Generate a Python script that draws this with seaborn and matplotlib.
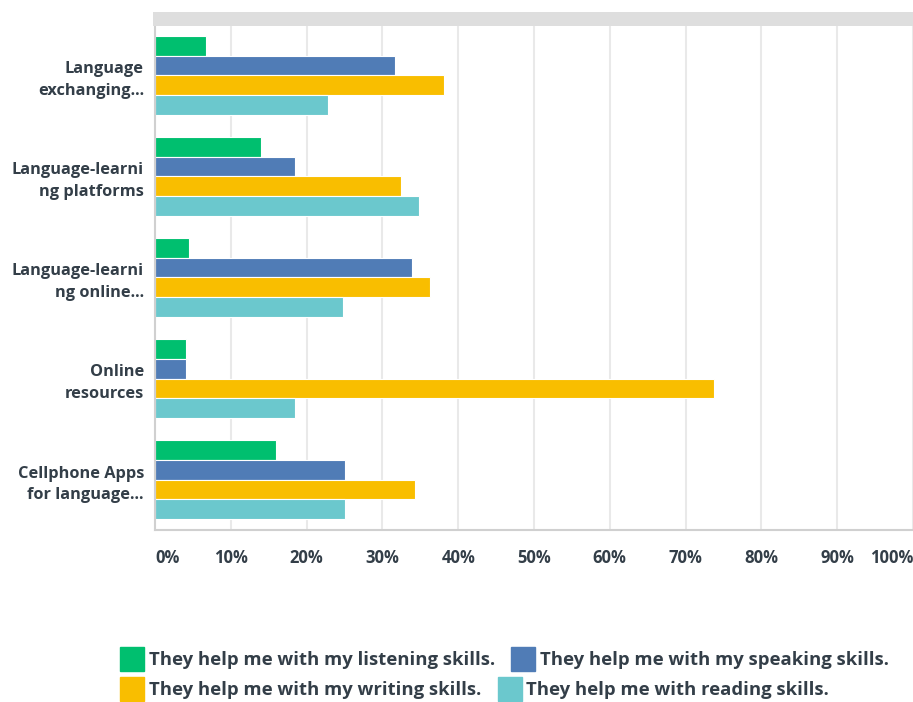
import matplotlib
matplotlib.use("Agg")
import matplotlib.pyplot as plt
from matplotlib.lines import Line2D
from matplotlib.patches import Rectangle
import seaborn as sns
import pandas as pd

# Answer options (shown top to bottom) and the share of respondents per skill, in percent
categories = [
    "Language\nexchanging...",
    "Language-learni\nng platforms",
    "Language-learni\nng online...",
    "Online\nresources",
    "Cellphone Apps\nfor language...",
]
skills = [
    "They help me with my listening skills.",
    "They help me with my speaking skills.",
    "They help me with my writing skills.",
    "They help me with reading skills.",
]
listening = [6.7, 14.0, 4.5, 4.1, 16.0]
speaking = [31.6, 18.5, 33.9, 4.1, 25.0]
writing = [38.1, 32.5, 36.3, 73.7, 34.3]
reading = [22.8, 34.8, 24.8, 18.5, 25.0]
x_ticks = [0, 10, 20, 30, 40, 50, 60, 70, 80, 90, 100]
x_tick_labels = [f"{t}%" for t in x_ticks]

colors = ["#00BF6F", "#507CB6", "#F9BE00", "#6BC8CD"]
text_color = "#333E48"

rows = []
for skill, vals in zip(skills, [listening, speaking, writing, reading]):
    for cat, v in zip(categories, vals):
        rows.append({"option": cat, "skill": skill, "pct": v})
df = pd.DataFrame(rows)

sns.set_style("white")
plt.rcParams["font.family"] = ["Open Sans", "DejaVu Sans"]

W, H = 913, 702
fig = plt.figure(figsize=(W / 100, H / 100), dpi=100)
ax = fig.add_axes([155 / W, 1 - 530 / H, (W - 155) / W, (530 - 25) / H])

sns.barplot(
    data=df, y="option", x="pct", hue="skill", order=categories,
    hue_order=skills, palette=colors, orient="h", width=0.79,
    edgecolor="white", linewidth=0.8, saturation=1, ax=ax, legend=False,
)

ax.set_xlim(0, 100)
ax.set_ylim(len(categories) - 0.5, -0.5)
ax.set_xticks(x_ticks)
ax.set_xticklabels(x_tick_labels)
ax.set_xlabel("")
ax.set_ylabel("")
ax.grid(axis="x", color="#E9E9E9", linewidth=1.5)
ax.set_axisbelow(True)
for side in ["top", "right"]:
    ax.spines[side].set_visible(False)
for side in ["left", "bottom"]:
    ax.spines[side].set_color("#D0D0D0")
    ax.spines[side].set_linewidth(1.5)

ax.tick_params(axis="x", length=0, pad=14, labelsize=12, labelcolor=text_color)
ax.tick_params(axis="y", length=0, pad=8, labelsize=11.8, labelcolor=text_color)
for lbl in ax.get_xticklabels():
    lbl.set_fontweight("bold")
xl = ax.get_xticklabels()
xl[0].set_horizontalalignment("left")
xl[-1].set_horizontalalignment("right")
for lbl in ax.get_yticklabels():
    lbl.set_fontweight("bold")
    lbl.set_multialignment("right")
    lbl.set_linespacing(1.45)

# grey header strip above the plot
fig.add_artist(Rectangle((153 / W, 1 - 25.5 / H), (W - 153) / W, 13.5 / H,
                         transform=fig.transFigure, facecolor="#DEDEDE",
                         edgecolor="none"))

# legend laid out as two left-aligned rows
handles = [Line2D([], [], linestyle="none", marker="s", markersize=17,
                  markerfacecolor=c, markeredgecolor=c) for c in colors]
legend_kw = dict(loc="center left", ncol=2, frameon=False, borderaxespad=0,
                 borderpad=0, handlelength=1.2, handletextpad=0.3,
                 columnspacing=0.95,
                 prop={"size": 13.3, "weight": "bold"},
                 labelcolor=text_color)
fig.legend(handles[:2], skills[:2], bbox_to_anchor=(121 / W, 1 - 660 / H), **legend_kw)
fig.legend(handles[2:], skills[2:], bbox_to_anchor=(121 / W, 1 - 690 / H), **legend_kw)

fig.savefig("out.png", dpi=100)
